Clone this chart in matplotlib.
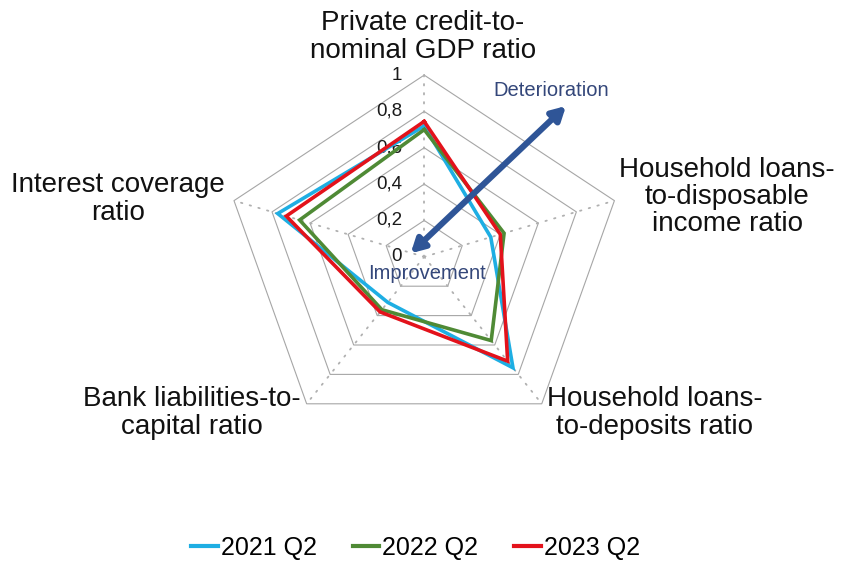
import numpy as np
import matplotlib
matplotlib.use("Agg")
import matplotlib.pyplot as plt
from matplotlib.patches import FancyArrowPatch

# ---------------- data ----------------
categories = ["Private credit-to-\nnominal GDP ratio",
              "Household loans-\nto-disposable\nincome ratio",
              "Household loans-\nto-deposits ratio",
              "Bank liabilities-to-\ncapital ratio",
              "Interest coverage\nratio"]
series_names = ["2021 Q2", "2022 Q2", "2023 Q2"]
values_2021 = [0.72, 0.35, 0.755, 0.31, 0.77]
values_2022 = [0.70, 0.42, 0.57, 0.36, 0.655]
values_2023 = [0.745, 0.40, 0.71, 0.375, 0.725]
tick_values = [0, 0.2, 0.4, 0.6, 0.8, 1.0]
tick_labels = ["0", "0,2", "0,4", "0,6", "0,8", "1"]
series_colors = ["#1EAEE3", "#4F8A35", "#E3121B"]

# ---------------- layout ----------------
W, H = 842, 561
CX, CY, RX, RY = 424.2, 256.8, 200.0, 181.7   # pixel geometry of the radar


def px(x, y):
    """pixel position (y downwards) -> data coordinates"""
    return (x - CX) / RX, (CY - y) / RY


plt.rcParams["font.family"] = ["Liberation Sans", "DejaVu Sans"]
fig = plt.figure(figsize=(W / 100, H / 100), dpi=100)
ax = fig.add_axes([0, 0, 1, 1])
ax.set_xlim(-CX / RX, (W - CX) / RX)
ax.set_ylim(-(H - CY) / RY, CY / RY)
ax.axis("off")

n = len(categories)
angles = np.deg2rad(90 - 72 * np.arange(n))
closed = np.append(angles, angles[0])

grid_color = "#A6A6A6"
# rings
for r in tick_values[1:]:
    ax.plot(r * np.cos(closed), r * np.sin(closed), color=grid_color,
            lw=0.8, zorder=1)
# spokes
for a in angles:
    ax.plot([0, np.cos(a)], [0, np.sin(a)], color="#B0B0B0", lw=1.3,
            linestyle=(0, (0.8, 4.2)), dash_capstyle="round", zorder=1)

# tick labels
for v, t in zip(tick_values, tick_labels):
    ax.text(px(402, 0)[0], v, t, ha="right", va="center", fontsize=13.5,
            color="#1a1a1a", zorder=2)

# category labels
label_pos = [px(423, 37), px(727, 197), px(655, 413), px(192, 413), px(118, 199)]
for lab, (lx, ly) in zip(categories, label_pos):
    ax.text(lx, ly, lab, ha="center", va="center", fontsize=20,
            linespacing=1.05, color="#111111", zorder=2)

# series
handles = []
for name, vals, col, z in zip(series_names, [values_2021, values_2022, values_2023],
                              series_colors, [3, 4, 5]):
    v = np.append(vals, vals[0])
    h, = ax.plot(v * np.cos(closed), v * np.sin(closed), color=col, lw=2.6,
                 solid_joinstyle="miter", zorder=z, label=name)
    handles.append(h)

# arrow Improvement <-> Deterioration
arrow = FancyArrowPatch(px(410.7, 253.3), px(566, 106),
                        arrowstyle="<|-|>,head_length=0.4,head_width=0.22",
                        mutation_scale=20, color="#2F5597", lw=4.4,
                        shrinkA=0, shrinkB=0, zorder=6)
ax.add_patch(arrow)
ax.text(*px(551, 91), "Deterioration", ha="center", va="center",
        fontsize=14.5, color="#34477A", zorder=7)
ax.text(*px(427.5, 273.5), "Improvement", ha="center", va="center",
        fontsize=14.5, color="#34477A", zorder=7)

# legend
leg = fig.legend(handles=handles, loc="center",
                 bbox_to_anchor=(415.5 / W, 1 - 548 / H), ncol=3,
                 frameon=False, fontsize=18, handlelength=1.05,
                 handletextpad=0.12, columnspacing=1.45)
for line in leg.get_lines():
    line.set_linewidth(3.0)

fig.savefig("out.png", dpi=100)
